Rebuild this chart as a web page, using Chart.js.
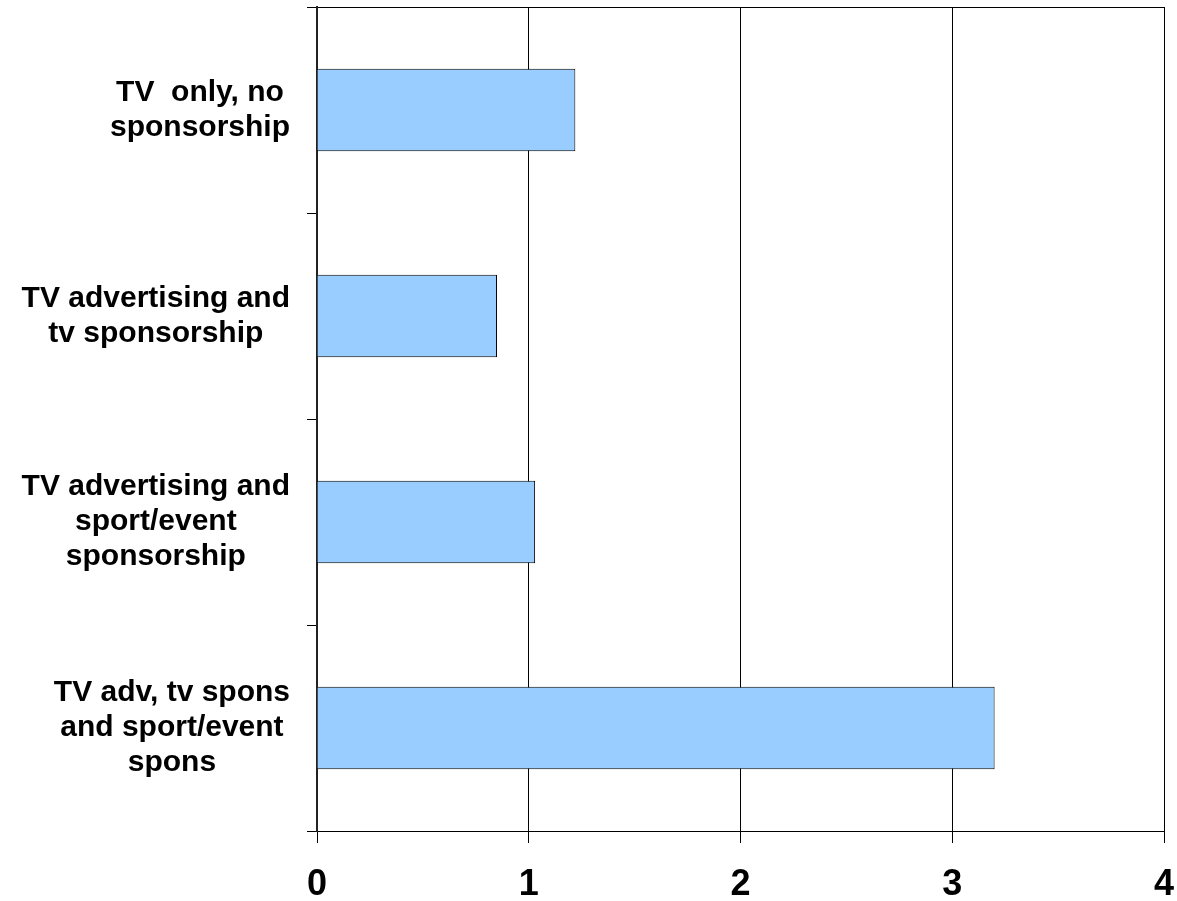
<!DOCTYPE html>
<html>
<head>
<meta charset="utf-8">
<script src="https://cdn.jsdelivr.net/npm/chart.js@4"></script>
<style>
  html, body { margin: 0; padding: 0; background: #fff; overflow: hidden; }
  #wrap { position: relative; width: 1177px; height: 901px; }
  canvas { display: block; }
</style>
</head>
<body>
<div id="wrap"><canvas id="chart"></canvas></div>
<script>
const categories = [
    ['TV  only, no', 'sponsorship'],
    ['TV advertising and', 'tv sponsorship'],
    ['TV advertising and', 'sport/event', 'sponsorship'],
    ['TV adv, tv spons', 'and sport/event', 'spons']
];
const values = [1.22, 0.85, 1.03, 3.2];
const xTicks = [0, 1, 2, 3, 4];

const labelFont = 'bold 30px "Liberation Sans", Arial, sans-serif';

// draws the category labels: block right aligned, lines centred inside
const catLabels = {
    id: 'catLabels',
    afterDraw(chart) {
        const ctx = chart.ctx;
        const y = chart.scales.y;
        ctx.save();
        ctx.font = labelFont;
        ctx.fillStyle = '#000';
        ctx.textAlign = 'center';
        ctx.textBaseline = 'middle';
        categories.forEach((lines, i) => {
            const cy = y.getPixelForTick(i);
            const w = Math.max(...lines.map(l => ctx.measureText(l.trim()).width));
            const cx = 290 - w / 2;
            lines.forEach((l, k) => {
                ctx.fillText(l, cx, cy + (k - (lines.length - 1) / 2) * 35);
            });
        });
        ctx.restore();
    }
};

const chart = document.querySelector('#chart').getContext('2d');

new Chart(chart, {
    type: 'bar',
    data: {
        labels: categories,
        datasets: [{
            data: values,
            backgroundColor: '#99CCFF',
            borderColor: '#000',
            borderWidth: 1,
            barPercentage: 0.5,
            categoryPercentage: 0.8
        }]
    },
    options: {
        indexAxis: 'y',
        responsive: true,
        maintainAspectRatio: false,
        animation: false,
        layout: { padding: { top: 7, right: 13, left: 0, bottom: 0 } },
        plugins: {
            legend: { display: false },
            tooltip: { enabled: false }
        },
        scales: {
            x: {
                min: 0,
                max: 4,
                afterFit: (s) => {
                    s.height = 70;
                    s.paddingLeft = 0;
                    s.paddingRight = 0;
                },
                afterBuildTicks: (s) => { s.ticks = xTicks.map(v => ({ value: v })); },
                grid: {
                    color: '#000',
                    lineWidth: 1,
                    tickColor: '#000',
                    tickLength: 12
                },
                border: { color: '#000', width: 1 },
                ticks: {
                    color: '#000',
                    padding: 20,
                    font: { family: '"Liberation Sans", Arial, sans-serif', size: 36, weight: 'bold' }
                }
            },
            y: {
                afterFit: (s) => { s.width = 317; },
                grid: {
                    offset: true,
                    color: (c) => c.index === 0 ? '#000' : 'rgba(0,0,0,0)',
                    lineWidth: 1,
                    tickColor: '#000',
                    tickLength: 10
                },
                border: { color: '#222', width: 2 },
                ticks: { display: false }
            }
        }
    },
    plugins: [catLabels]
});
</script>
</body>
</html>
